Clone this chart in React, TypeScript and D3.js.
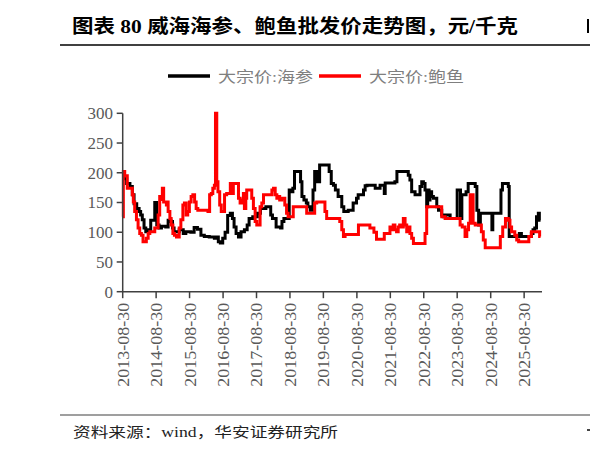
import React from "react";
import * as d3 from "d3";

const TITLE = "图表 80 威海海参、鲍鱼批发价走势图，元/千克";
const SOURCE = "资料来源：wind，华安证券研究所";
const SERIES_NAMES = ["大宗价:海参", "大宗价:鲍鱼"];
const Y_TICKS = [0, 50, 100, 150, 200, 250, 300];
const X_TICK_LABELS = [
  "2013-08-30", "2014-08-30", "2015-08-30", "2016-08-30", "2017-08-30",
  "2018-08-30", "2019-08-30", "2020-08-30", "2021-08-30", "2022-08-30",
  "2023-08-30", "2024-08-30", "2025-08-30",
];

// 大宗价:海参 (元/千克), change points
const seaCucumberDates = [
  "2013-08-30","2013-09-13","2013-10-12","2013-11-17","2013-12-13","2014-01-01","2014-01-30","2014-02-25",
  "2014-03-14","2014-04-01","2014-04-20","2014-05-09","2014-06-04","2014-07-02","2014-08-15","2014-09-06",
  "2014-10-01","2014-10-27","2014-12-13","2015-01-08","2015-02-07","2015-02-25","2015-03-14","2015-05-09",
  "2015-06-22","2015-07-20","2015-09-13","2015-10-19","2015-11-24","2016-01-01","2016-02-07","2016-04-01",
  "2016-05-27","2016-06-22","2016-07-09","2016-07-31","2016-08-26","2016-09-21","2016-10-19","2016-11-17",
  "2016-12-10","2016-12-28","2017-01-19","2017-02-14","2017-03-14","2017-04-20","2017-05-20","2017-06-10",
  "2017-07-20","2017-09-08","2017-10-12","2017-12-10","2018-02-01","2018-02-20","2018-04-01","2018-05-20",
  "2018-06-04","2018-06-25","2018-08-22","2018-09-13","2018-10-01","2018-10-19","2018-12-24","2019-01-08",
  "2019-01-30","2019-02-25","2019-03-14","2019-04-09","2019-05-09","2019-05-27","2019-06-18","2019-07-20",
  "2019-11-01","2019-11-24","2019-12-18","2020-01-08","2020-02-07","2020-03-18","2020-04-09","2020-05-27",
  "2020-07-20","2020-08-26","2020-09-13","2020-11-10","2020-11-28","2020-12-18","2021-03-18","2021-05-10",
  "2021-06-25","2021-07-05","2021-10-19","2021-11-10","2022-03-14","2022-04-01","2022-04-20","2022-05-27",
  "2022-07-20","2022-08-08","2022-08-26","2022-09-13","2022-10-01","2022-10-12","2022-10-27","2022-11-06",
  "2022-11-24","2022-12-13","2023-01-19","2023-02-07","2023-03-14","2023-04-01","2023-04-20","2023-06-14",
  "2023-08-30","2023-10-05","2023-10-20","2023-12-05","2023-12-28","2024-03-14","2024-04-01","2024-04-20",
  "2024-05-09","2024-09-12","2024-09-22","2024-12-20","2025-01-05","2025-03-10","2025-03-20","2025-07-09",
  "2025-07-31","2025-11-17","2025-12-05","2025-12-24","2026-01-12","2026-02-01","2026-02-12","2026-02-25",
];
const seaCucumberValues = [
  200,190,182,177,163,148,140,135,
  129,121,107,101,104,120,150,112,
  107,110,109,120,118,107,101,104,
  98,101,100,108,105,95,93,92,
  90,92,84,82,90,100,128,132,
  123,109,98,92,101,104,112,123,
  126,132,140,143,129,123,109,107,
  118,123,171,168,174,202,185,160,
  154,149,143,137,171,202,185,213,
  202,182,179,171,160,143,135,137,
  149,157,163,171,178,179,174,179,
  165,183,185,202,196,188,168,163,
  177,185,182,171,143,171,154,168,
  160,157,143,137,129,126,129,123,
  171,123,163,168,182,177,137,112,
  132,104,132,171,182,177,93,98,
  93,98,104,107,126,132,120,120,
];

// 大宗价:鲍鱼 (元/千克), change points
const abaloneDates = [
  "2013-08-30","2013-09-06","2013-09-21","2013-10-19","2013-12-13","2013-12-24","2014-01-08","2014-01-27",
  "2014-02-14","2014-03-04","2014-03-22","2014-04-09","2014-05-15","2014-06-04","2014-06-22","2014-08-15",
  "2014-09-21","2014-10-08","2014-10-27","2014-11-06","2014-11-20","2014-12-20","2015-01-01","2015-01-08",
  "2015-01-27","2015-02-10","2015-03-01","2015-03-18","2015-04-09","2015-05-09","2015-05-27","2015-06-18",
  "2015-07-05","2015-07-24","2015-08-10","2015-08-28","2015-09-16","2015-10-05","2015-10-24","2015-11-10",
  "2015-11-28","2016-03-18","2016-04-05","2016-04-23","2016-05-10","2016-05-27","2016-06-08","2016-06-22",
  "2016-07-05","2016-07-24","2016-08-10","2016-09-15","2016-10-08","2016-11-17","2016-12-02","2016-12-20",
  "2017-02-14","2017-03-04","2017-03-22","2017-04-09","2017-04-20","2017-05-05","2017-05-15","2017-07-09",
  "2017-07-27","2017-08-15","2017-09-02","2017-10-08","2017-10-27","2017-11-14","2018-02-14","2018-03-04",
  "2018-03-22","2018-04-09","2018-04-23","2018-05-10","2018-06-01","2018-07-05","2018-07-24","2018-08-10",
  "2018-10-05","2019-03-01","2019-05-27","2019-06-18","2019-09-16","2019-10-05","2020-02-25","2020-03-18",
  "2020-04-05","2020-04-23","2020-09-16","2021-01-19","2021-03-04","2021-04-01","2021-06-25","2021-08-26",
  "2021-09-13","2021-10-01","2021-10-19","2021-11-06","2021-11-24","2021-12-10","2022-01-01","2022-01-19",
  "2022-02-07","2022-02-25","2022-03-14","2022-04-01","2022-04-20","2022-05-09","2022-09-13","2022-10-01",
  "2023-03-14","2023-04-20","2023-10-01","2023-10-24","2023-11-24","2023-12-13","2024-01-01","2024-01-19",
  "2024-02-20","2024-03-14","2024-05-20","2024-06-10","2024-07-01","2024-12-13","2025-01-08","2025-02-07",
  "2025-03-10","2025-03-28","2025-04-15","2025-05-20","2025-06-10","2025-07-01","2025-10-20","2025-11-17",
  "2026-02-15","2026-02-25",
];
const abaloneValues = [
  126,202,195,174,163,151,135,121,
  107,98,95,84,90,98,101,107,
  129,160,155,174,151,146,151,135,
  123,112,98,95,92,107,121,146,
  149,129,135,151,160,163,151,140,
  137,135,163,165,174,179,300,185,
  168,146,135,163,165,182,165,182,
  157,149,154,165,140,157,171,157,
  140,118,112,143,149,163,171,174,
  163,157,160,154,157,146,132,126,
  143,132,149,151,135,123,118,104,
  93,96,112,107,100,88,98,109,
  104,112,104,101,109,112,109,123,
  112,101,109,98,90,81,98,143,
  126,123,112,109,93,104,115,163,
  115,112,101,87,74,93,109,123,
  120,109,101,95,87,84,93,101,
  93,93,
];

const W = 590;
const H = 453;
const LABEL = "#595959";
const AXIS = "#404040";
const SERIF = "'Liberation Serif', 'Times New Roman', 'Noto Sans CJK SC', serif";

export default function App() {
  const parse = d3.timeParse("%Y-%m-%d");
  const x = d3
    .scaleTime()
    .domain([parse("2013-08-30")!, parse("2026-03-13")!])
    .range([122.7, 542]);
  const y = d3.scaleLinear().domain([0, 300]).range([291.7, 113.3]);

  const mk = (dates: string[], vals: number[]) =>
    dates.map((d, i) => ({ date: parse(d)!, value: vals[i] }));
  const series = [
    { name: SERIES_NAMES[0], color: "#000000", data: mk(seaCucumberDates, seaCucumberValues) },
    { name: SERIES_NAMES[1], color: "#ff0000", data: mk(abaloneDates, abaloneValues) },
  ];
  const line = d3
    .line<{ date: Date; value: number }>()
    .x((d) => x(d.date))
    .y((d) => y(d.value))
    .curve(d3.curveStepAfter);

  const xTicks = X_TICK_LABELS.map((s) => ({ label: s, pos: x(parse(s)!) }));

  return (
    <div style={{ position: "absolute", left: 0, top: 0, width: W, height: H, background: "#fff" }}>
      <svg width={W} height={H} viewBox={`0 0 ${W} ${H}`} style={{ display: "block" }}>
        <rect width={W} height={H} fill="#fff" />
        {/* title */}
        <text
          x={72}
          y={33}
          fontSize={19}
          fontWeight={700}
          fontFamily={SERIF}
          fill="#000"
          textLength={446}
          lengthAdjust="spacingAndGlyphs"
        >
          {TITLE}
        </text>
        {/* partial glyph strokes cut at the right edge in the source page */}
        <rect x={587} y={19} width={2} height={14} fill="#000" />
        <line x1={60} x2={590} y1={45} y2={45} stroke="#000" strokeWidth={1.5} />

        {/* legend */}
        {series.map((s, i) => {
          const lx = i === 0 ? 168 : 319;
          const tx = i === 0 ? 218 : 369;
          return (
            <g key={s.name}>
              <line x1={lx} x2={lx + 42} y1={76} y2={76} stroke={s.color} strokeWidth={3.5} />
              <text
                x={tx}
                y={81.5}
                fontSize={15}
                fontFamily={SERIF}
                fill="#7f7f7f"
                textLength={95}
                lengthAdjust="spacingAndGlyphs"
              >
                {s.name}
              </text>
            </g>
          );
        })}

        {/* series */}
        {series.map((s) => (
          <path
            key={s.name}
            d={line(s.data) || ""}
            fill="none"
            stroke={s.color}
            strokeWidth={3}
            strokeLinejoin="miter"
          />
        ))}

        {/* y axis */}
        <line x1={122.7} x2={122.7} y1={y(300)} y2={y(0)} stroke={AXIS} strokeWidth={1.5} />
        {Y_TICKS.map((t) => (
          <g key={t}>
            <line x1={116.7} x2={122.7} y1={y(t)} y2={y(t)} stroke={AXIS} strokeWidth={1.5} />
            <text
              x={113}
              y={y(t)}
              dy="0.35em"
              textAnchor="end"
              fontSize={17}
              fontFamily={SERIF}
              fill={LABEL}
            >
              {t}
            </text>
          </g>
        ))}

        {/* x axis */}
        <line x1={122} x2={542} y1={y(0)} y2={y(0)} stroke={AXIS} strokeWidth={1.5} />
        {xTicks.map((t) => (
          <g key={t.label}>
            <line x1={t.pos} x2={t.pos} y1={y(0)} y2={y(0) + 6.5} stroke={AXIS} strokeWidth={1.5} />
            <text
              transform={`translate(${t.pos},302.7) rotate(-90)`}
              dy="0.35em"
              textAnchor="end"
              fontSize={17}
              fontFamily={SERIF}
              fill={LABEL}
              textLength={84}
              lengthAdjust="spacingAndGlyphs"
            >
              {t.label}
            </text>
          </g>
        ))}

        {/* footer */}
        <line x1={60} x2={590} y1={415} y2={415} stroke="#7f7f7f" strokeWidth={1.5} />
        <text
          x={73}
          y={437}
          fontSize={14}
          fontFamily={SERIF}
          fill="#222"
          textLength={265}
          lengthAdjust="spacingAndGlyphs"
        >
          {SOURCE}
        </text>
        <rect x={587} y={429} width={3} height={2} fill="#444" />
      </svg>
    </div>
  );
}
